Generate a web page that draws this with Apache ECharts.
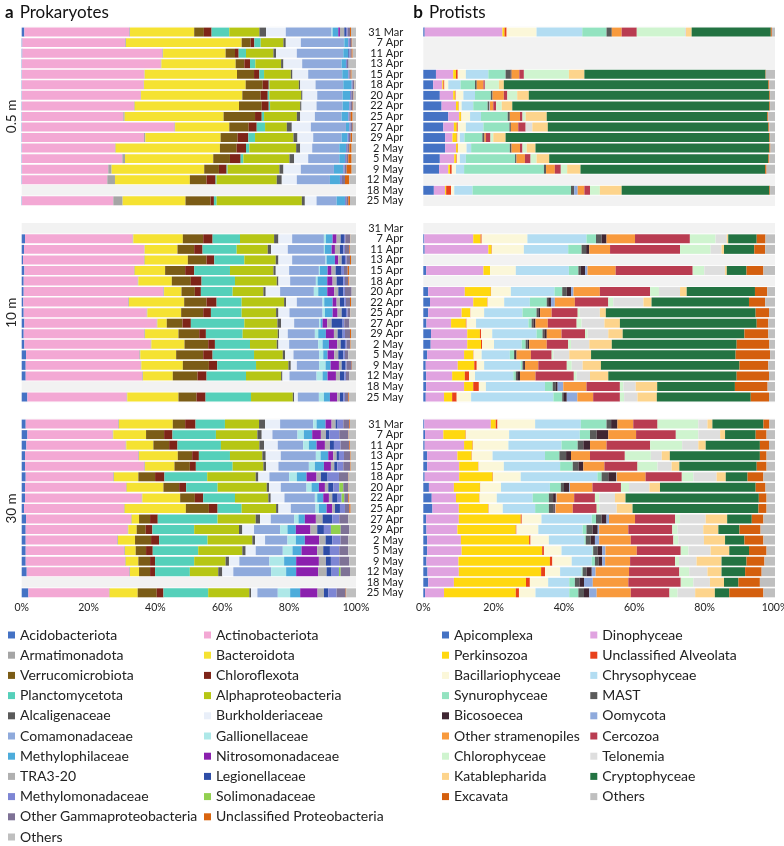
<!DOCTYPE html>
<html><head><meta charset="utf-8">
<script src="https://cdn.jsdelivr.net/npm/echarts/dist/echarts.min.js"></script>
<style>html,body{margin:0;padding:0;background:#fff}#c{width:784px;height:846px}</style>
</head><body><div id="c"></div>
<script>
// ---------------- DATA ----------------
const DATES = ['31 Mar','7 Apr','11 Apr','13 Apr','15 Apr','18 Apr','20 Apr','22 Apr','25 Apr','27 Apr','29 Apr','2 May','5 May','9 May','12 May','18 May','25 May'];
const DEPTHS = ['0.5 m','10 m','30 m'];
const X_TICK_STEP = 20;

const PROK_CATS = ['Acidobacteriota','Actinobacteriota','Armatimonadota','Bacteroidota','Verrucomicrobiota','Chloroflexota','Planctomycetota','Alphaproteobacteria','Alcaligenaceae','Burkholderiaceae','Comamonadaceae','Gallionellaceae','Methylophilaceae','Nitrosomonadaceae','TRA3-20','Legionellaceae','Methylomonadaceae','Solimonadaceae','Other Gammaproteobacteria','Unclassified Proteobacteria','Others'];
const PROTIST_CATS = ['Apicomplexa','Dinophyceae','Perkinsozoa','Unclassified Alveolata','Bacillariophyceae','Chrysophyceae','Synurophyceae','MAST','Bicosoecea','Oomycota','Other stramenopiles','Cercozoa','Chlorophyceae','Telonemia','Katablepharida','Cryptophyceae','Excavata','Others'];

// Prokaryotes, % per category (order of PROK_CATS), one row per date, null = no sample
const PROK_05M = [
 [0.8,31.4,0.2,19.2,2.9,2.3,5.3,9.0,2.0,5.9,13.7,0.3,1.7,0.5,1.3,0.5,0.5,0,0.7,0.3,1.5],
 [0.2,30.8,0.2,34.6,2.7,1.1,1.9,6.8,0.7,4.5,12.9,0.1,1.2,0,0,0,0.5,0,0.5,0.2,1.1],
 [0.2,41.9,0.2,18.7,2.8,1.1,2.2,8.2,0.8,6.2,13.9,0,1.5,0,0,0.3,0.3,0,0.4,0.3,1.0],
 [0.1,41.5,0.2,22.2,2.6,1.7,1.6,7.7,0.7,5.6,11.8,0,1.3,0,0,0,0.3,0,0.5,0,2.2],
 [0.1,36.6,0.1,27.6,5.1,1.6,1.4,8.0,0.5,4.7,10.2,0,1.8,0,0,0,0.3,0,0.4,0.3,1.3],
 [0.1,36.4,0.1,30.4,5.1,1.8,0.2,8.8,0.4,4.6,8.3,0,2.5,0,0,0,0.3,0,0.4,0.1,0.5],
 [0.1,35.5,0.1,30.3,5.5,2.1,0.5,9.5,0.4,4.4,7.6,0,2.2,0,0,0,0.4,0,0.6,0.1,0.7],
 [0.1,33.5,0.2,31.2,6.8,2.1,0.4,9.0,0.4,4.5,7.8,0,2.0,0,0,0,0.4,0,0.6,0.2,0.8],
 [0.1,30.3,0.4,29.6,9.4,2.0,0.7,9.8,1.0,4.4,8.0,0,2.0,0,0,0,0.3,0,0.4,0.6,1.0],
 [0.1,45.6,0.2,16.2,5.8,2.4,2.5,6.5,1.5,5.7,10.5,0,1.0,0,0,0,0.4,0,0.6,0.1,0.9],
 [0.1,36.5,0.4,22.5,5.1,3.2,2.0,11.5,1.2,4.7,8.5,0,1.8,0,0,0,0.4,0,0.5,0.5,1.1],
 [0.1,27.8,0.2,31.2,5.0,2.8,1.0,14.0,1.2,3.6,8.1,0,2.0,0,0,0,0.4,0,0.6,0.7,1.3],
 [0.1,30.0,0.8,26.4,5.0,3.2,0.8,13.8,1.4,4.2,9.3,0,1.7,0,0,0,0.4,0,0.6,1.0,1.3],
 [0.1,25.8,1.0,27.7,4.4,2.3,0.3,15.5,1.2,5.2,9.9,0,2.8,0,0,0,0.4,0,0.6,1.5,1.3],
 [0.1,25.5,2.3,22.4,5.0,2.7,0.3,18.0,1.5,4.5,9.9,0,3.0,0,0,0,0.6,0,0.9,1.3,2.0],
 null,
 [0.1,27.3,2.8,18.8,7.5,1.0,0.8,25.5,0.9,3.5,6.0,0,2.5,0,0,0,0.4,0,0.6,0.5,1.8]
];
const PROK_10M = [
 null,
 [1.0,32.2,0.2,14.8,6.1,2.8,8.2,10.2,1.3,4.1,9.5,0.6,2.0,1.2,1.2,1.0,0.4,0,1.4,0.1,1.7],
 [0.7,36.0,0.1,9.8,5.0,2.5,10.2,9.3,1.0,5.0,10.8,0.3,2.0,1.0,1.5,1.0,0.5,0,1.3,0.2,1.8],
 [0.4,36.2,0.2,12.9,5.6,2.3,9.0,9.4,0.8,4.1,10.0,0.3,2.5,1.0,1.0,1.0,0.5,0,1.0,0.3,1.5],
 [0.8,32.8,0.2,9.1,6.0,2.7,10.7,13.0,0.7,4.0,8.9,0.3,2.3,1.2,1.2,1.8,0.7,0,1.1,0.4,2.1],
 [0.6,34.1,0.2,10.0,5.7,3.2,10.0,12.5,0.5,3.5,7.7,0.5,2.9,1.6,1.2,2.0,0.5,0,1.0,0.3,2.0],
 [0.6,41.8,0.2,5.2,4.0,1.8,9.5,9.2,0.7,4.3,10.1,1.3,2.7,2.1,1.2,1.5,0.5,0,2.0,0,1.3],
 [0.5,31.4,0.2,16.5,6.7,3.0,7.5,12.7,0.6,3.2,7.7,0.5,2.5,1.2,1.0,1.3,0.5,0,1.2,0.3,1.5],
 [0.6,36.8,0.2,10.1,6.6,2.3,9.2,10.3,0.7,3.3,9.9,0.7,2.3,1.5,1.2,1.3,0.5,0,0.7,0.1,1.7],
 [0.8,39.6,0.2,2.8,4.7,2.5,16.0,9.9,1.1,3.9,7.5,0.4,0.6,1.4,1.3,3.3,0.5,0,1.5,0,2.0],
 [0.6,36.1,0.2,10.0,6.2,2.0,11.0,10.5,0.4,2.6,8.1,1.0,2.3,2.4,1.1,1.5,0.7,0,1.5,0.3,1.5],
 [0.8,37.8,0.2,9.9,7.1,2.0,10.5,8.0,0.5,3.2,8.7,1.3,1.9,2.5,1.0,1.3,0.5,0,1.0,0.2,1.6],
 [1.3,33.9,0.3,10.7,8.1,2.8,12.4,8.6,0.7,2.5,7.7,1.2,1.3,2.0,1.2,1.5,0.5,0,1.0,0,2.3],
 [1.2,34.4,0.2,12.4,7.8,2.5,11.6,9.7,0.7,1.8,6.7,1.9,1.5,2.5,0.8,1.2,0.3,0,1.5,0.1,1.2],
 [1.2,34.9,0.2,8.9,7.4,2.7,11.8,10.5,0.4,2.1,8.1,1.8,1.5,2.5,1.2,1.3,0.5,0,1.0,0,2.0],
 null,
 [1.7,29.7,0.2,15.3,5.4,2.7,13.6,12.5,0.4,1.1,6.3,1.5,1.8,2.2,0.8,1.0,0.5,0,1.0,0.2,2.1]
];
const PROK_30M = [
 [1.2,27.7,0.2,16.1,3.7,3.1,8.8,10.2,1.8,4.5,9.9,1.0,2.7,1.8,1.2,0.6,1.7,0,1.8,0.2,1.8],
 [1.7,25.5,0.2,9.8,5.4,2.5,13.0,12.4,1.3,3.2,7.5,1.9,2.5,2.6,1.5,1.0,3.0,0,2.7,0.1,2.2],
 [1.4,29.7,0.2,8.1,4.7,2.5,13.0,11.5,1.4,4.1,7.6,1.7,2.3,2.5,1.5,1.2,2.0,0,2.6,0.2,1.8],
 [1.0,33.9,0.2,11.6,4.3,2.0,9.3,9.7,1.0,4.5,10.5,1.4,2.3,1.5,1.0,0.7,1.5,0,1.8,0.2,1.6],
 [1.0,35.7,0.2,8.8,4.6,1.8,11.0,9.2,0.8,3.7,9.1,1.8,2.7,2.1,1.0,0.9,1.8,0,2.0,0.2,1.6],
 [1.2,26.2,0.2,7.3,5.0,2.8,12.8,14.5,0.8,3.3,5.9,2.3,2.9,3.0,1.3,2.0,3.4,0,2.8,0.1,2.2],
 [1.0,30.2,0.2,11.0,4.7,2.1,9.4,14.7,0.7,3.5,7.7,1.5,2.2,1.8,1.0,1.5,1.8,1.2,1.5,0.1,2.2],
 [1.0,34.9,0.2,11.3,4.4,2.5,9.5,10.0,0.7,4.1,9.1,0.7,1.8,1.7,1.0,1.6,1.2,0.8,1.2,0.3,2.0],
 [0.7,29.9,0.2,18.3,6.9,2.6,7.2,10.3,0.7,3.7,7.4,1.0,2.3,1.7,0.8,1.5,1.5,0,1.3,0.4,1.6],
 [1.3,31.4,0.2,2.2,3.3,2.3,17.9,11.4,1.3,3.2,7.0,1.3,1.9,3.3,2.0,2.9,2.1,0,2.7,0,2.3],
 [1.2,30.5,0.2,2.5,2.7,2.0,12.5,13.4,1.0,3.5,7.8,2.2,2.5,4.4,2.0,2.0,2.1,2.9,2.6,0,2.0],
 [1.2,27.4,0.2,5.1,4.8,2.4,14.5,13.4,0.8,3.0,6.7,2.5,2.7,4.3,1.9,2.0,2.5,0,2.3,0,2.3],
 [1.2,29.5,0.2,3.2,3.1,2.0,13.6,13.2,1.0,3.0,8.1,2.9,2.7,4.7,1.8,2.0,2.8,0,2.7,0,2.3],
 [1.2,29.7,0.2,3.8,3.5,1.5,11.7,9.4,1.0,3.1,9.0,4.4,3.6,6.8,2.1,1.5,2.5,0,3.0,0,2.0],
 [1.5,30.7,0.2,2.7,3.3,1.5,10.4,8.5,1.2,3.3,11.3,4.5,3.0,6.6,2.5,1.5,2.2,0.5,2.8,0,1.8],
 null,
 [2.0,24.1,0.2,8.4,5.7,2.0,13.4,12.3,0.5,1.9,6.1,3.7,3.0,5.2,1.9,1.3,2.5,0,2.7,0.2,2.9]
];

// Protists, % per category (order of PROTIST_CATS)
const PROT_05M = [
 [0.4,22.1,0.6,0.6,8.5,13.0,6.9,1.5,0,0,2.8,4.3,13.7,0.3,1.6,22.5,0.3,0.9],
 null, null, null,
 [3.6,4.9,0.8,0.5,2.3,6.4,4.9,1.4,0.3,0,2.2,1.3,12.8,0,4.4,51.5,0.1,2.6],
 [2.8,2.6,0.3,0.3,1.1,3.5,4.1,0.5,0,0,1.9,0.4,4.0,0,1.4,75.2,0.3,1.6],
 [4.7,3.8,0.5,0.2,2.2,3.3,4.5,0.5,0,0,3.2,1.0,2.8,0,3.3,68.4,0.2,1.4],
 [5.2,4.1,0.7,0.1,0.8,3.3,4.1,0.4,0,0.2,1.0,0.8,1.6,0,3.0,73.1,0.2,1.4],
 [7.1,3.1,0.5,0.1,2.5,3.1,7.6,0.6,0,0,2.9,0.7,0.9,0,6.0,62.7,0.3,1.9],
 [5.7,3.0,0.8,0.3,2.3,5.0,7.4,0.4,0,0,2.1,2.1,0,1.9,4.4,62.7,0.3,1.6],
 [6.2,2.1,1.2,0.2,0.7,1.3,5.1,0.5,0.1,0,0.4,1.3,0.8,0,3.5,75.0,0.2,1.4],
 [6.2,3.1,0.5,0.1,2.4,1.3,11.0,0.5,0,0,2.4,0.7,1.2,0,2.5,66.5,0.3,1.3],
 [4.7,4.1,0.5,0.2,0.9,1.7,14.0,0.4,0,0,2.4,1.6,1.7,0,3.6,62.3,0.3,1.6],
 [4.5,2.6,0.5,0.5,1.2,2.3,22.7,0.6,0,0,2.5,1.7,1.8,0,3.8,52.5,0.4,2.4],
 null,
 [3.0,3.2,0.3,1.4,0.9,5.2,28.0,0.9,0,1.0,1.9,1.6,2.8,0,6.2,42.0,0.2,1.4],
 null
];
const PROT_10M = [
 null,
 [0.3,13.9,2.1,0.3,13.0,16.8,2.7,1.6,1.4,0,8.1,15.6,7.3,3.2,0.4,8.1,2.5,2.7],
 [0.4,18.1,0.9,0.1,9.1,12.6,3.8,1.3,0.9,0,5.9,19.9,8.7,3.1,0.7,8.6,3.1,2.8],
 null,
 [0.8,16.3,1.9,0,7.3,15.1,2.7,0.7,1.2,0.7,8.0,21.9,3.3,5.9,0.5,5.6,4.8,3.3],
 null,
 [1.4,10.4,7.4,0.1,5.6,12.4,2.2,1.3,1.2,0.7,7.5,14.3,2.5,6.0,1.9,19.4,3.5,2.2],
 [1.9,12.3,4.0,0.1,4.7,7.3,4.8,0.4,0.8,1.1,5.7,9.5,1.4,8.6,2.3,27.7,4.6,2.8],
 [1.4,9.5,2.4,0.1,3.9,10.9,4.0,0.5,0.5,0,3.3,7.4,0.6,5.7,1.7,42.6,3.8,1.7],
 [0.9,7.0,4.2,0.2,2.7,14.9,0.9,0.5,0.6,0,3.5,8.2,1.4,6.5,4.4,38.9,3.3,1.9],
 [2.2,10.3,3.6,0.3,3.2,12.6,1.7,0.5,0.7,0,4.2,6.7,0.7,5.9,4.1,34.6,6.8,1.9],
 [2.1,10.4,3.9,0.3,3.4,7.9,1.1,0.6,0.4,0,5.0,6.1,0.8,5.2,6.4,35.5,9.3,1.6],
 [1.1,10.5,2.6,0.1,2.3,8.0,1.2,0.3,0.4,0,4.1,5.9,0.5,4.5,6.2,41.1,9.8,1.4],
 [0.7,9.1,4.7,0.7,2.1,10.4,0.5,0.2,0.5,0,3.8,8.1,1.4,3.1,5.2,39.4,8.2,1.9],
 [0.8,7.4,3.6,1.2,1.7,10.9,0.7,0.4,0.8,0,4.4,10.9,0.8,3.8,5.2,36.5,9.2,1.7],
 [0.8,10.8,2.6,1.6,2.0,16.8,2.2,0.9,0.5,1.6,6.6,9.5,1.0,3.5,6.1,22.1,9.3,2.1],
 [0.7,5.2,2.3,1.3,4.1,23.4,2.5,0.5,0.8,3.0,4.5,7.6,1.2,3.8,5.5,26.7,5.2,1.7]
];
const PROT_30M = [
 [0.3,18.9,1.4,0.5,10.7,13.0,7.3,1.3,1.8,0,4.5,6.9,11.6,2.6,1.4,14.5,1.7,1.6],
 [0.5,5.2,6.3,0.1,12.3,20.1,2.9,1.9,3.3,0,7.9,11.3,6.4,6.2,1.4,8.7,3.1,2.4],
 [0.4,11.2,2.4,0.1,10.1,15.1,4.6,1.6,1.9,0,4.7,12.4,9.1,4.6,2.1,15.4,2.6,1.7],
 [1.1,8.6,4.0,0.1,5.9,14.9,4.1,1.9,1.4,0,5.4,9.9,7.4,3.1,2.3,25.6,1.9,2.4],
 [1.1,9.1,5.4,0.1,7.2,16.0,3.6,1.6,1.4,0,6.0,9.4,5.7,4.0,2.2,22.0,2.8,2.4],
 [0.4,9.8,9.5,0.1,7.9,21.8,1.2,1.9,2.2,0.2,8.2,10.3,3.3,6.6,2.6,6.2,4.5,3.3],
 [1.6,7.1,7.4,0.1,5.9,13.9,3.1,0.9,1.5,0.2,6.4,8.1,2.3,5.8,3.0,27.2,2.8,2.7],
 [2.4,6.9,6.6,0.1,4.9,10.2,4.6,1.2,0.8,0.2,5.0,5.9,1.2,4.5,3.0,37.9,2.2,2.4],
 [2.6,7.5,8.4,0.1,4.0,9.2,3.9,1.3,0.4,0.2,4.9,6.8,0.7,5.0,4.5,35.8,2.3,2.4],
 [0.8,9.3,17.6,0.3,5.6,14.3,1.2,1.6,1.4,0.7,7.4,11.4,1.4,7.3,6.1,7.0,3.3,3.3],
 [0.9,8.8,16.6,0.2,6.2,12.6,1.1,1.7,1.5,0.4,8.3,12.5,1.5,7.3,4.3,6.0,6.0,4.1],
 [1.1,9.6,19.4,0.4,5.2,10.1,0.4,1.4,1.2,1.2,9.0,12.1,1.4,7.3,6.0,5.5,5.4,3.3],
 [1.1,9.8,22.9,0.5,5.0,8.8,0.2,1.2,1.4,0.9,8.9,12.5,2.2,6.3,5.3,5.6,5.0,2.4],
 [0.9,9.1,26.0,0.7,5.5,5.7,0.9,1.0,1.1,0.8,7.1,12.8,1.1,5.0,7.1,7.1,5.1,3.0],
 [1.2,8.9,23.4,1.1,4.3,6.1,0.3,1.1,1.5,1.1,9.5,14.3,2.8,5.2,4.0,6.7,4.7,3.8],
 [1.4,7.3,20.5,1.1,5.2,6.0,1.6,1.3,1.3,2.5,10.1,14.9,3.6,4.7,4.0,4.1,6.1,4.3],
 [0.5,5.4,20.4,0.9,4.7,9.6,2.6,1.6,1.5,2.1,9.7,11.0,2.3,5.0,5.6,4.1,9.7,3.3]
];

// ---------------- STYLE ----------------
const PROK_COLORS = ['#4472C4','#F3A8D4','#A5A5A5','#F5E232','#7B5C16','#7E2418','#55D0BA','#B6C614','#5A5A5A','#E9EFF9','#8FAADC','#AEE8E8','#4DACDB','#8B20AE','#B0B0B0','#2E4DA6','#7E86D4','#92D050','#7E7296','#D9640E','#BFBFBF'];
const PROT_COLORS = ['#4472C4','#E0A3E0','#FFD80F','#E8411B','#FBF7D9','#B3DDF2','#93E3C0','#5A5A5A','#3F2632','#8FAADC','#F89A3D','#B93C51','#CFF4CF','#DEDEDE','#FDD48C','#237342','#D45F0E','#BFBFBF'];
const FONT = 'Lato';
const TXT = '#222';
const GRID_TOPS = [26.8, 223, 418.8];
const GRID_H = 179.3;
const PROK_LEFT = 21.7, PROK_W = 334.3;
const PROT_LEFT = 423.3, PROT_W = 351.7;

const chart = echarts.init(document.getElementById('c'), null, {renderer: 'canvas'});

const grids = [], xAxes = [], yAxes = [], series = [];
const panels = [
  {rows: [PROK_05M, PROK_10M, PROK_30M], cats: PROK_CATS, colors: PROK_COLORS, left: PROK_LEFT, width: PROK_W, labels: false},
  {rows: [PROT_05M, PROT_10M, PROT_30M], cats: PROTIST_CATS, colors: PROT_COLORS, left: PROT_LEFT, width: PROT_W, labels: true}
];
panels.forEach((p, pi) => {
  p.rows.forEach((rows, di) => {
    const g = grids.length;
    grids.push({left: p.left, width: p.width, top: GRID_TOPS[di], height: GRID_H, show: true,
      backgroundColor: '#f2f2f2', borderWidth: 0, containLabel: false, outerBoundsMode: 'none'});
    xAxes.push({type: 'value', gridIndex: g, min: 0, max: 100, interval: X_TICK_STEP,
      axisLine: {show: false}, axisTick: {show: false}, splitLine: {show: false},
      axisLabel: {show: di === 2, formatter: '{value}%', fontSize: 10.5, color: TXT, fontFamily: FONT, margin: 4}});
    yAxes.push({type: 'category', gridIndex: g, data: DATES, inverse: true,
      axisLine: {show: false}, axisTick: {show: false}, splitLine: {show: false},
      axisLabel: {show: p.labels, fontSize: 11, color: TXT, fontFamily: FONT, margin: 20, interval: 0}});
    yAxes.push({type: 'category', gridIndex: g, data: DATES, inverse: true, show: false});
    // white backing strip behind each sampled row
    series.push({type: 'bar', name: '_row' + g, xAxisIndex: g, yAxisIndex: 2 * g + 1,
      data: rows.map(r => r ? 100 : '-'), barCategoryGap: 0, itemStyle: {color: '#ffffff'}, silent: true, z: 1});
    p.cats.forEach((c, i) => {
      series.push({type: 'bar', name: c, stack: 'st' + g, xAxisIndex: g, yAxisIndex: 2 * g,
        data: rows.map(r => r ? r[i] : '-'), barCategoryGap: '15%',
        itemStyle: {color: p.colors[i]}, z: 2, silent: true});
    });
  });
});

const legendBase = {orient: 'vertical', icon: 'rect', itemWidth: 7, itemHeight: 7, itemGap: 6.2,
  selectedMode: false, padding: 0, top: 628,
  textStyle: {fontSize: 14, color: TXT, fontFamily: FONT, lineHeight: 14}};
const legends = [
  Object.assign({}, legendBase, {left: 8, data: PROK_CATS.filter((_, i) => i % 2 === 0)}),
  Object.assign({}, legendBase, {left: 204, data: PROK_CATS.filter((_, i) => i % 2 === 1)}),
  Object.assign({}, legendBase, {left: 442, data: PROTIST_CATS.filter((_, i) => i % 2 === 0)}),
  Object.assign({}, legendBase, {left: 590.3, data: PROTIST_CATS.filter((_, i) => i % 2 === 1)})
];

const titleRich = {
  b: {fontSize: 17, fontWeight: 'bold', fontFamily: FONT, color: '#111'},
  s: {width: 6},
  n: {fontSize: 17, fontWeight: 'normal', fontFamily: FONT, color: '#111'}
};

const graphics = DEPTHS.map((d, di) => ({
  type: 'text', x: 11.5, y: GRID_TOPS[di] + GRID_H / 2, rotation: Math.PI / 2,
  style: {text: d, fontSize: 13.5, fontFamily: FONT, fill: TXT, align: 'center', verticalAlign: 'middle'}
}));

chart.setOption({
  animation: false,
  textStyle: {fontFamily: FONT},
  title: [
    {text: '{b|a}{s|}{n|Prokaryotes}', left: 5, top: 4, padding: 0, textStyle: {fontWeight: 'normal', rich: titleRich}},
    {text: '{b|b}{s|}{n|Protists}', left: 413.3, top: 4, padding: 0, textStyle: {fontWeight: 'normal', rich: titleRich}}
  ],
  legend: legends,
  grid: grids,
  xAxis: xAxes,
  yAxis: yAxes,
  series: series,
  graphic: graphics
});
</script>
</body></html>
